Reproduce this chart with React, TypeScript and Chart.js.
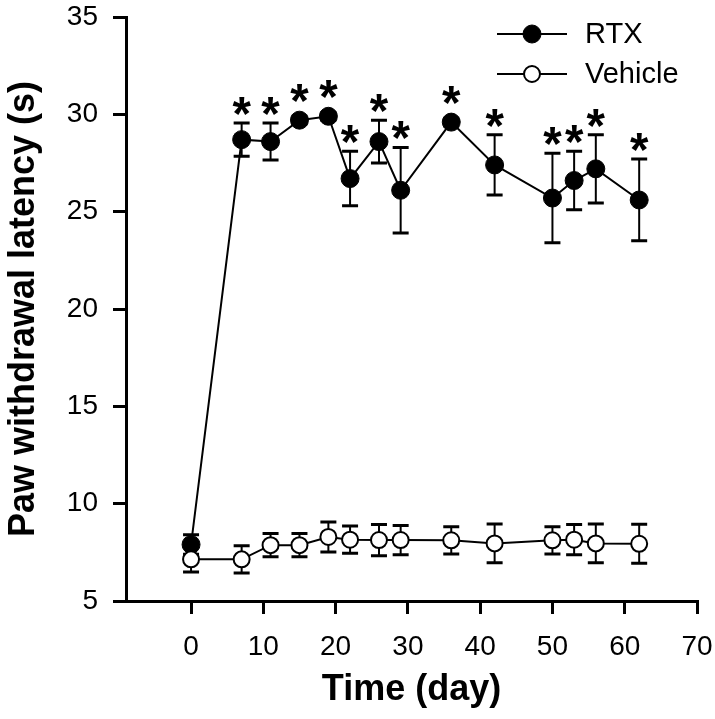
import React, { useEffect, useRef } from 'react';
import { Chart, registerables } from 'chart.js';

Chart.register(...registerables);

// ---- data ----
const days = [0, 7, 11, 15, 19, 22, 26, 29, 36, 42, 50, 53, 56, 62];
const rtxMean = [7.9, 28.7, 28.6, 29.7, 29.9, 26.7, 28.6, 26.1, 29.6, 27.4, 25.7, 26.6, 27.2, 25.6];
const rtxSem = [0.5, 0.85, 0.95, 0.2, 0.2, 1.4, 1.1, 2.2, 0.2, 1.55, 2.3, 1.5, 1.75, 2.1];
const vehMean = [7.14, 7.14, 7.87, 7.87, 8.29, 8.15, 8.13, 8.13, 8.12, 7.96, 8.12, 8.15, 7.96, 7.94];
const vehSem = [0.65, 0.7, 0.6, 0.6, 0.77, 0.7, 0.8, 0.75, 0.7, 1.0, 0.7, 0.78, 1.0, 1.0];
const rtxSignificant = [false, true, true, true, true, true, true, true, true, true, true, true, true, true];
const seriesLabels = ['RTX', 'Vehicle'];
const xTicks = [0, 10, 20, 30, 40, 50, 60, 70];
const xTitle = 'Time (day)';
const yTitle = 'Paw withdrawal latency (s)';

const FONT = "'Liberation Sans', Arial, Helvetica, sans-serif";

export default function App() {
  const ref = useRef<HTMLCanvasElement>(null);

  useEffect(() => {
    document.body.style.margin = '0';
    const canvas = ref.current;
    if (!canvas) return;

    const errorBars = {
      id: 'errorBars',
      beforeDatasetsDraw(chart: any) {
        const { ctx, scales } = chart;
        const x = scales.x;
        const y = scales.y;
        ctx.save();
        ctx.strokeStyle = '#000';
        const draw = (means: number[], sems: number[]) => {
          days.forEach((d, i) => {
            const px = x.getPixelForValue(d);
            const top = y.getPixelForValue(means[i] + sems[i]);
            const bot = y.getPixelForValue(means[i] - sems[i]);
            ctx.lineWidth = 2;
            ctx.beginPath();
            ctx.moveTo(px, top);
            ctx.lineTo(px, bot);
            ctx.stroke();
            ctx.lineWidth = 3;
            ctx.beginPath();
            ctx.moveTo(px - 8, top);
            ctx.lineTo(px + 8, top);
            ctx.moveTo(px - 8, bot);
            ctx.lineTo(px + 8, bot);
            ctx.stroke();
          });
        };
        draw(rtxMean, rtxSem);
        draw(vehMean, vehSem);
        ctx.restore();
      },
    };

    const asterisks = {
      id: 'asterisks',
      afterDatasetsDraw(chart: any) {
        const { ctx, scales } = chart;
        const x = scales.x;
        const y = scales.y;
        ctx.save();
        ctx.font = `bold 100px ${FONT}`;
        const m0 = ctx.measureText('*');
        const h0 = m0.actualBoundingBoxAscent + m0.actualBoundingBoxDescent;
        const size = (100 * 18) / h0;
        ctx.font = `bold ${size}px ${FONT}`;
        const m = ctx.measureText('*');
        ctx.fillStyle = '#000';
        ctx.textAlign = 'center';
        ctx.textBaseline = 'alphabetic';
        days.forEach((d, i) => {
          if (!rtxSignificant[i]) return;
          const px = x.getPixelForValue(d);
          const cap = y.getPixelForValue(rtxMean[i] + rtxSem[i]);
          const ptTop = y.getPixelForValue(rtxMean[i]) - 10;
          const top = Math.min(cap, ptTop);
          const bottom = top - 8;
          ctx.fillText('*', px, bottom - m.actualBoundingBoxDescent);
        });
        ctx.restore();
      },
    };

    const legendPlugin = {
      id: 'customLegend',
      afterDraw(chart: any) {
        const { ctx } = chart;
        ctx.save();
        const items = [
          { label: seriesLabels[0], fill: '#000', bw: 1, r: 9, y: 34 },
          { label: seriesLabels[1], fill: '#fff', bw: 2, r: 8, y: 74 },
        ];
        items.forEach((it) => {
          ctx.strokeStyle = '#000';
          ctx.lineWidth = 2;
          ctx.beginPath();
          ctx.moveTo(497, it.y);
          ctx.lineTo(567, it.y);
          ctx.stroke();
          ctx.beginPath();
          ctx.arc(532, it.y, it.r, 0, Math.PI * 2);
          ctx.fillStyle = it.fill;
          ctx.fill();
          ctx.lineWidth = it.bw;
          ctx.stroke();
          ctx.fillStyle = '#000';
          ctx.font = `29px ${FONT}`;
          ctx.textAlign = 'left';
          ctx.textBaseline = 'middle';
          ctx.fillText(it.label, 585, it.y + 1);
        });
        ctx.restore();
      },
    };

    const chart = new Chart(canvas, {
      type: 'line',
      data: {
        datasets: [
          {
            label: seriesLabels[1],
            data: days.map((d, i) => ({ x: d, y: vehMean[i] })),
            borderColor: '#000',
            borderWidth: 2,
            pointRadius: 8,
            pointBorderWidth: 2,
            pointBackgroundColor: '#fff',
            pointBorderColor: '#000',
            fill: false,
            tension: 0,
          },
          {
            label: seriesLabels[0],
            data: days.map((d, i) => ({ x: d, y: rtxMean[i] })),
            borderColor: '#000',
            borderWidth: 2,
            pointRadius: 9,
            pointBorderWidth: 1,
            pointBackgroundColor: '#000',
            pointBorderColor: '#000',
            fill: false,
            tension: 0,
          },
        ],
      },
      options: {
        responsive: false,
        animation: false,
        layout: { padding: { top: 17, right: 18, bottom: 0, left: 0 } },
        plugins: {
          legend: { display: false },
          tooltip: { enabled: false },
        },
        scales: {
          x: {
            type: 'linear',
            min: -9,
            max: 70,
            ticks: {
              stepSize: 10,
              color: '#000',
              font: { family: FONT, size: 28 },
              padding: 16,
              maxRotation: 0,
            },
            afterBuildTicks: (axis: any) => {
              axis.ticks = xTicks.map((v) => ({ value: v }));
            },
            afterFit: (s: any) => {
              s.height = 118;
              s.paddingLeft = 0;
              s.paddingRight = 0;
            },
            grid: {
              drawOnChartArea: false,
              drawTicks: true,
              tickLength: 13,
              tickWidth: 3,
              tickColor: '#000',
              color: '#000',
              lineWidth: 3,
            },
            border: { display: true, color: '#000', width: 3 },
            title: {
              display: true,
              text: xTitle,
              color: '#000',
              font: { family: FONT, size: 36, weight: 'bold' },
              padding: { top: 7, bottom: 7 },
            },
          },
          y: {
            type: 'linear',
            min: 5,
            max: 35,
            ticks: {
              stepSize: 5,
              color: '#000',
              font: { family: FONT, size: 28 },
              padding: 15,
            },
            afterFit: (s: any) => {
              s.width = 126;
              s.paddingTop = 0;
              s.paddingBottom = 0;
            },
            grid: {
              drawOnChartArea: false,
              drawTicks: true,
              tickLength: 13,
              tickWidth: 3,
              tickColor: '#000',
              color: '#000',
              lineWidth: 3,
            },
            border: { display: true, color: '#000', width: 3 },
            title: {
              display: true,
              text: yTitle,
              color: '#000',
              font: { family: FONT, size: 36, weight: 'bold' },
              padding: { top: 2, bottom: 2 },
            },
          },
        },
      },
      plugins: [errorBars, asterisks, legendPlugin],
    });

    return () => chart.destroy();
  }, []);

  return (
    <div style={{ width: 715, height: 719, background: '#fff' }}>
      <canvas ref={ref} width={715} height={719} style={{ display: 'block' }} />
    </div>
  );
}
